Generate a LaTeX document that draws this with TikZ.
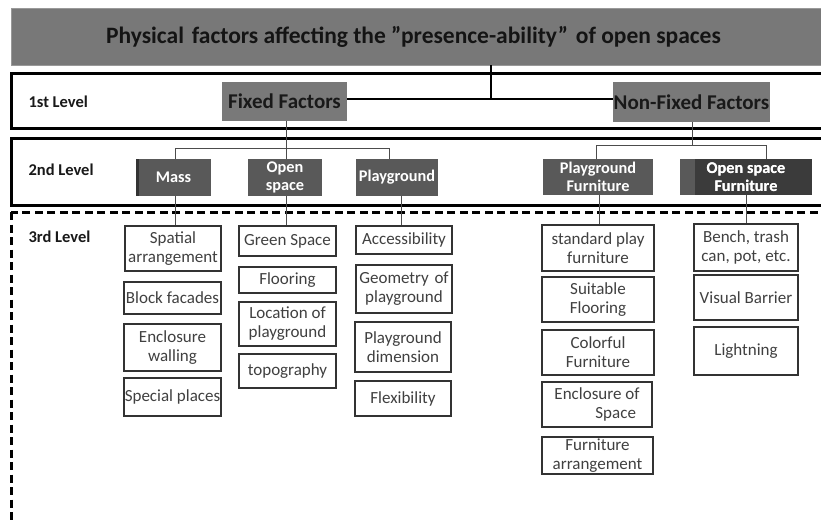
\documentclass[tikz,border=0pt]{standalone}
\usepackage{fontspec}
\setmainfont{Carlito}
\begin{document}
\begin{tikzpicture}[x=1pt,y=-1pt,
  lvl/.style={line width=3pt,draw=black},
  lab/.style={anchor=west,font=\bfseries\fontsize{16.5}{18}\selectfont,text=black!90},
  top/.style={draw=none,fill=gray!95!black,text=black!90,font=\bfseries\fontsize{21}{23}\selectfont,inner sep=0pt},
  mid/.style={draw=none,fill=black!65,text=white,font=\bfseries\fontsize{16.3}{18}\selectfont,align=center,inner sep=0pt},
  leaf/.style={draw=black!80,line width=1.1pt,fill=white,text=black!75,font=\fontsize{17}{19}\selectfont,align=center,inner sep=0pt},
  thin/.style={draw=black!70,line width=0.9pt},
  thickc/.style={draw=black,line width=2.8pt}
]
\useasboundingbox (0,0) rectangle (821,519);
\clip (0,0) rectangle (821,519);
\fill[white] (0,0) rectangle (821,519);

% title
\node[draw=black!40,line width=0.6pt,fill=black!53,minimum width=814pt,minimum height=57pt,inner sep=0pt] (title) at (418,36.5) {};
\node[text=black!92,font=\bfseries\fontsize{23.5}{25}\selectfont] (ttext) at (413.5,37) {Physical\,\,factors affecting the ”presence-ability”\,\,of open spaces};

% level frames
\draw[lvl] (11,73) rectangle (830,128);
\draw[lvl] (11,138) rectangle (830,205.5);
\draw[lvl,dash pattern=on 8pt off 4.5pt] (11,212) rectangle (830,540);

\node[lab] (l1) at (25,102) {1st Level};
\node[lab] (l2) at (25,170) {2nd Level};
\node[lab] (l3) at (25,237) {3rd Level};

% level 1
\node[top,minimum width=125pt,minimum height=39pt] (ff) at (284.5,101.5) {Fixed Factors};
\node[top,minimum width=157pt,minimum height=40pt] (nf) at (691.5,102) {Non-Fixed Factors};

\coordinate (j1) at (491,99);
\draw[thickc] (title.south -| j1) -- (j1);
\draw[thickc] (ff.east |- j1) -- (nf.west |- j1);

% level 2
\node[mid,minimum width=75pt,minimum height=37pt] (mass) at (173.5,177.5) {Mass};
\node[mid,minimum width=74pt,minimum height=37pt] (os) at (285,177.5) {Open\\space};
\node[mid,minimum width=82pt,minimum height=37pt] (pg) at (397,177.5) {Playground};
\node[mid,minimum width=110pt,minimum height=36pt] (pf) at (598,177) {Playground\\Furniture};
\node[mid,fill=black!77,minimum width=132pt,minimum height=36pt] (of) at (746,177) {Open space\\Furniture};
\fill[black!65] (of.north west) rectangle ([xshift=15pt]of.south west);
\node[font=\bfseries\fontsize{16.3}{18}\selectfont,text=white,align=center] at (of.center) {Open space\\Furniture};
\fill[black!80] (mass.north west) rectangle ([xshift=3pt]mass.south west);

\coordinate (b1) at (175,148);
\coordinate (b2) at (389,148);
\coordinate (ffd) at (286,148);
\draw[thin] (ff.south -| ffd) -- (ffd);
\draw[thin] (mass.north -| b1) -- (b1) -- (b2) -- (pg.north -| b2);
\draw[thin] (os.north -| ffd) -- (ffd);

\coordinate (c1) at (596,145);
\coordinate (c2) at (766,145);
\coordinate (nfd) at (692,145);
\draw[thin] (nf.south -| nfd) -- (nfd);
\draw[thin] (pf.north -| c1) -- (c1) -- (c2) -- (of.north -| c2);

% level 3
\node[leaf,minimum width=96pt,minimum height=45pt] (sa) at (173,248.5) {Spatial\\arrangement};
\node[leaf,minimum width=97pt,minimum height=32pt] (bf) at (172.5,298) {Block facades};
\node[leaf,minimum width=97pt,minimum height=47pt] (ew) at (172.5,347.5) {Enclosure\\walling};
\node[leaf,minimum width=97pt,minimum height=38pt] (sp) at (172.5,397) {Special places};

\node[leaf,minimum width=97pt,minimum height=30pt] (gs) at (287.5,241) {Green Space};
\node[leaf,minimum width=97pt,minimum height=26pt] (fl) at (287.5,280) {Flooring};
\node[leaf,minimum width=97pt,minimum height=44pt] (lp) at (287.5,324) {Location of\\playground};
\node[leaf,minimum width=97pt,minimum height=34pt] (tp) at (287.5,371) {topography};

\node[leaf,minimum width=96pt,minimum height=28pt] (ac) at (404,240) {Accessibility};
\node[leaf,minimum width=96pt,minimum height=48pt] (gp) at (404,289) {Geometry\,\,of\\playground};
\node[leaf,minimum width=96pt,minimum height=50pt] (pd) at (403,347) {Playground\\dimension};
\node[leaf,minimum width=96pt,minimum height=35pt] (fx) at (403,398.5) {Flexibility};

\node[leaf,minimum width=112pt,minimum height=46pt] (spf) at (598,248) {standard play\\furniture};
\node[leaf,minimum width=112pt,minimum height=45pt] (sf) at (598,299.5) {Suitable\\Flooring};
\node[leaf,minimum width=112pt,minimum height=45pt] (cf) at (598,352.5) {Colorful\\Furniture};
\node[leaf,minimum width=110pt,minimum height=45pt] (es) at (597,404.5) {Enclosure of\\\hspace*{2.2em}Space};
\node[leaf,minimum width=111pt,minimum height=37pt] (fa) at (597.5,455.5) {Furniture\\arrangement};

\node[leaf,minimum width=104pt,minimum height=47pt] (bt) at (746,247.5) {Bench, trash\\can, pot, etc.};
\node[leaf,minimum width=104pt,minimum height=45pt] (vb) at (746,297.5) {Visual Barrier};
\node[leaf,minimum width=104pt,minimum height=48pt] (lt) at (746,351) {Lightning};

\coordinate (d1) at (175,0);
\coordinate (d3) at (401,0);
\coordinate (d4) at (599,0);
\draw[thin] (mass.south -| d1) -- (sa.north -| d1);
\draw[thin] (os.south -| ffd) -- (gs.north -| ffd);
\draw[thin] (pg.south -| d3) -- (ac.north -| d3);
\draw[thin] (pf.south -| d4) -- (spf.north -| d4);
\draw[thin] (of.south) -- (bt.north);
\end{tikzpicture}
\end{document}
